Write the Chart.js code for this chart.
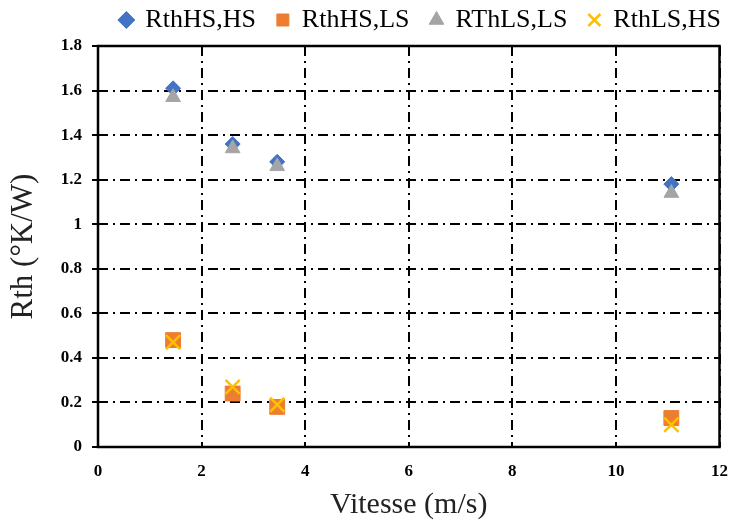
<!DOCTYPE html>
<html>
<head>
<meta charset="utf-8">
<script src="https://cdn.jsdelivr.net/npm/chart.js@4.4.1/dist/chart.umd.min.js"></script>
<style>
  html, body { margin: 0; padding: 0; background: #fff; }
  #wrap { width: 732px; height: 523px; }
</style>
</head>
<body>
<div id="wrap"><canvas id="chart"></canvas></div>
<script>
// values
const vitesse = [1.45, 2.6, 3.46, 11.07];
const rthHsHs = [1.61, 1.36, 1.28, 1.18];
const rthHsLs = [0.48, 0.24, 0.18, 0.13];
const rthLsLs = [1.57, 1.34, 1.26, 1.14];
const rthLsHs = [0.47, 0.27, 0.19, 0.10];

const seriesNames = ["RthHS,HS", "RthHS,LS", "RThLS,LS", "RthLS,HS"];
const serif = "'Liberation Serif', 'Times New Roman', serif";
const dashDot = [10, 5, 2, 5];

function points(ys)
{
    return vitesse.map((x, i) => ({ x: x, y: ys[i] }));
}

// plain black frame around the plot area
const frame = {
    id: 'frame',
    afterDraw(chart)
    {
        const a = chart.chartArea;
        const ctx = chart.ctx;
        ctx.save();
        ctx.strokeStyle = '#000';
        ctx.lineWidth = 2.5;
        ctx.strokeRect(a.left, a.top, a.right - a.left, a.bottom - a.top);
        ctx.restore();
    }
};

// legend sits a bit higher and further right than chart.js puts it
const legendNudge = {
    id: 'legendNudge',
    afterInit(chart)
    {
        const legend = chart.legend;
        const origFit = legend.fit;
        legend.fit = function ()
        {
            origFit.call(this);
            this.height = 46;
        };
        const origDraw = legend.draw;
        legend.draw = function (area)
        {
            const ctx = this.ctx;
            ctx.save();
            ctx.translate(21, -14);
            origDraw.call(this, area);
            ctx.restore();
        };
    }
};

let chartElement = document.getElementById('chart').getContext('2d');

new Chart(chartElement, {
    type: 'scatter',
    data: {
        datasets: [
            {
                label: seriesNames[0], data: points(rthHsHs), order: 3,
                pointStyle: 'rectRot', pointRadius: 7.5, pointHoverRadius: 7.5,
                backgroundColor: '#4472C4', borderColor: '#4472C4', borderWidth: 1
            },
            {
                label: seriesNames[1], data: points(rthHsLs), order: 2,
                pointStyle: 'rect', pointRadius: 10.5, pointHoverRadius: 10.5,
                backgroundColor: '#ED7D31', borderColor: '#ED7D31', borderWidth: 1
            },
            {
                label: seriesNames[2], data: points(rthLsLs), order: 1,
                pointStyle: 'triangle', pointRadius: 8.5, pointHoverRadius: 8.5,
                backgroundColor: '#A5A5A5', borderColor: '#A5A5A5', borderWidth: 1
            },
            {
                label: seriesNames[3], data: points(rthLsHs), order: 0,
                pointStyle: 'crossRot', pointRadius: 10, pointHoverRadius: 10,
                backgroundColor: '#FFC000', borderColor: '#FFC000', borderWidth: 2.5
            }
        ]
    },
    options: {
        responsive: true,
        maintainAspectRatio: false,
        animation: false,
        layout: { padding: { top: 0, right: 11, left: 0, bottom: 0 } },
        plugins: {
            tooltip: { enabled: false },
            legend: {
                position: 'top',
                align: 'end',
                labels: {
                    usePointStyle: true,
                    boxWidth: 12,
                    boxHeight: 12,
                    padding: 21,
                    color: '#000',
                    font: { family: serif, size: 26 },
                    sort: (a, b) => a.datasetIndex - b.datasetIndex
                }
            }
        },
        scales: {
            x: {
                type: 'linear',
                min: 0, max: 12,
                ticks: {
                    stepSize: 2,
                    color: '#000',
                    padding: 14,
                    font: { family: serif, size: 17, weight: 'bold' }
                },
                grid: {
                    color: '#000',
                    lineWidth: 2,
                    drawTicks: false
                },
                border: { display: false, dash: dashDot },
                title: {
                    display: true,
                    text: 'Vitesse (m/s)',
                    color: '#222',
                    padding: { top: 4, bottom: 0 },
                    font: { family: serif, size: 30 }
                },
                afterFit(scale)
                {
                    scale.height = 76;
                    scale.paddingRight = 0;
                    scale.paddingLeft = 0;
                }
            },
            y: {
                type: 'linear',
                min: 0, max: 1.8,
                ticks: {
                    stepSize: 0.2,
                    color: '#000',
                    padding: 10,
                    font: { family: serif, size: 17, weight: 'bold' },
                    callback: v => String(Math.round(v * 10) / 10)
                },
                grid: {
                    color: '#000',
                    lineWidth: 2,
                    tickLength: 6,
                    tickBorderDash: []
                },
                border: { display: false, dash: dashDot },
                title: {
                    display: true,
                    text: 'Rth (°K/W)',
                    color: '#222',
                    padding: { top: 5, bottom: 0 },
                    font: { family: serif, size: 31 }
                },
                afterFit(scale) { scale.width = 98; }
            }
        }
    },
    plugins: [frame, legendNudge]
});
</script>
</body>
</html>
